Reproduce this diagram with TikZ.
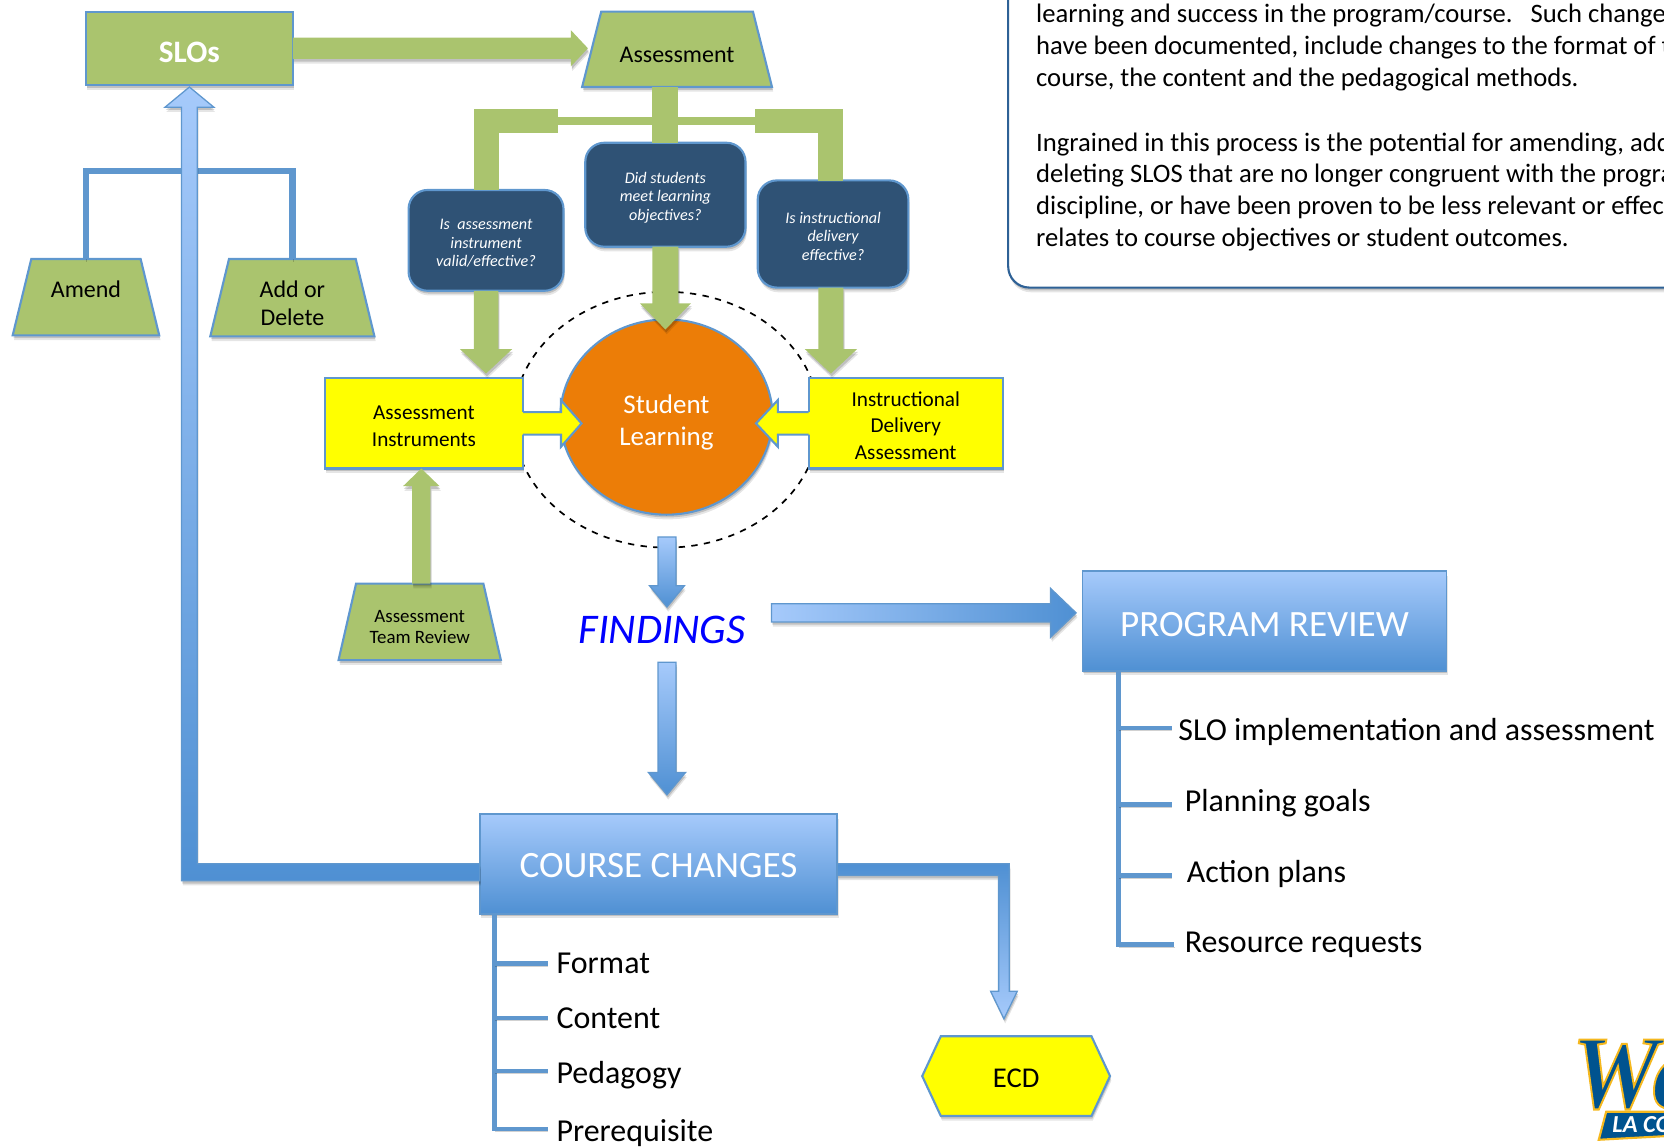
\documentclass[tikz,border=0pt]{standalone}
\usepackage{fontspec}
\setmainfont{Carlito}
\newfontfamily\logofont{Liberation Serif}
\usetikzlibrary{shapes.geometric,shapes.symbols,shadows,calc}
\definecolor{gr}{HTML}{AAC46E}
\definecolor{ln}{HTML}{5F97CE}
\definecolor{navy}{HTML}{2F5275}
\definecolor{blL}{HTML}{A6CAFB}
\definecolor{blD}{HTML}{4F90D3}
\definecolor{org}{HTML}{EC7D07}
\definecolor{notec}{HTML}{2E6196}
\definecolor{logob}{HTML}{00538F}
\definecolor{logog}{HTML}{F5B81E}
\definecolor{yel}{RGB}{255,255,0}
\definecolor{pureblue}{RGB}{0,0,255}
\newcommand{\fs}[2]{\fontsize{#1}{#2}\selectfont}
% text centred at a shift from the node centre, taking no height of its own
\newcommand{\ctext}[3]{\raisebox{\dimexpr#1-2.6pt\relax}[0pt][0pt]{\parbox{#2}{\centering #3}}}
% the same, in a box of half height #2, which gives a trapezium its full height
\newcommand{\ttext}[4]{\raisebox{\dimexpr#1-2.6pt\relax}[#2][#2]{\parbox{#3}{\centering #4}}}
\newcommand{\vArrow}[6]{\path[#1] let \p1=(#2),\p2=(#3) in
  (\x1-#4,\y1) -- (\x1-#4,\y2+#6) -- (\x1-#5,\y2+#6) -- (\x1,\y2) -- (\x1+#5,\y2+#6) -- (\x1+#4,\y2+#6) -- (\x1+#4,\y1) -- cycle;}
\newcommand{\hArrow}[6]{\path[#1] let \p1=(#2),\p2=(#3) in
  (\x1,\y1-#4) -- (\x2-#6,\y1-#4) -- (\x2-#6,\y1-#5) -- (\x2,\y1) -- (\x2-#6,\y1+#5) -- (\x2-#6,\y1+#4) -- (\x1,\y1+#4) -- cycle;}
\newcommand{\hOpen}[6]{\path[fill=yel] let \p1=(#1),\p2=(#2) in
  (\x1+#6,\y1-#3) -- (\x2-#5,\y1-#3) -- (\x2-#5,\y1-#4) -- (\x2,\y1) -- (\x2-#5,\y1+#4) -- (\x2-#5,\y1+#3) -- (\x1+#6,\y1+#3) -- cycle;
  \path[draw=ln,line width=1pt] let \p1=(#1),\p2=(#2) in
  (\x1,\y1-#3) -- (\x2-#5,\y1-#3) -- (\x2-#5,\y1-#4) -- (\x2,\y1) -- (\x2-#5,\y1+#4) -- (\x2-#5,\y1+#3) -- (\x1,\y1+#3);}
\tikzset{
  softsh/.style={drop shadow={shadow xshift=.6pt,shadow yshift=-2.2pt,fill=black,opacity=.10},
                 drop shadow={shadow xshift=.4pt,shadow yshift=-1.3pt,fill=black,opacity=.16}},
  linesh/.style={preaction={draw=black,opacity=.18,transform canvas={xshift=.4pt,yshift=-1.3pt}}},
  grbox/.style={softsh,fill=gr,draw=ln,line width=1pt,inner sep=0pt,outer sep=0pt},
  trap/.style={grbox,trapezium,trapezium angle=#1},
  qbox/.style={softsh,rectangle,rounded corners=9pt,fill=navy,draw=ln,line width=1pt,text=white,
     font=\fs{7.6}{8.7}\itshape,inner sep=0pt,outer sep=0pt},
  ybox/.style={softsh,rectangle,fill=yel,draw=ln,line width=1pt,inner sep=0pt,outer sep=0pt,font=\fs{10}{12.4}},
  bigbox/.style={softsh,rectangle,top color=blL,bottom color=blD,draw=ln,line width=.8pt,text=white,font=\fs{17.5}{20},inner sep=0pt,outer sep=0pt},
  grarrow/.style={softsh,fill=gr},
  blV/.style={softsh,top color=blL,bottom color=blD,draw=ln,line width=.6pt},
  blH/.style={softsh,left color=blL,right color=blD,draw=ln,line width=.6pt},
  grline/.style={draw=gr,miter limit=10},
  brack/.style={linesh,draw=ln,line width=2pt},
  item/.style={anchor=base west,inner sep=0pt,font=\fs{15.05}{17}},
}
\begin{document}
\begin{tikzpicture}[x=.5pt,y=-.5pt]
\useasboundingbox (0,0) rectangle (1568,1081);
\clip (0,0) rectangle (1568,1081);

% note box
\node[softsh,rectangle,rounded corners=10pt,fill=white,draw=notec,line width=1pt,minimum width=350pt,minimum height=170pt,outer sep=0pt,inner sep=0pt,anchor=south west] (note) at (950,271) {};
\node[anchor=north west,inner sep=0pt,align=left,font=\fs{12.55}{15}] (notetext) at (976,3.5)
 {learning and success in the program/course.\ \ \ Such change\\
  have been documented, include changes to the format of t\\
  course, the content and the pedagogical methods.\\[15.5pt]
  Ingrained in this process is the potential for amending, add\\
  deleting SLOS that are no longer congruent with the progra\\
  discipline, or have been proven to be less relevant or effec\\
  relates to course objectives or student outcomes.};

% dashed ring
\node[ellipse,draw=black,dashed,line width=.8pt,minimum width=144pt,minimum height=120.5pt,inner sep=0pt] (ring) at (628,395.5) {};

% top row
\node[grbox,rectangle,minimum width=97.5pt,minimum height=34.5pt,text=white,font=\fs{14.7}{16}\bfseries] (slos) at (178.5,45.5) {\ctext{-2.75pt}{60pt}{SLOs}};
\node[trap=75.8,font=\fs{11.3}{13}] (assess) at (638,46.5) {\ttext{-2.75pt}{17.75pt}{71.5pt}{Assessment}};
\node[trap=76.3,font=\fs{11.3}{13}] (amend) at (81,280) {\ttext{3.5pt}{18pt}{51.5pt}{Amend}};
\node[trap=76.4,font=\fs{11.3}{13}] (addel) at (275.5,280.5) {\ttext{-2.75pt}{18.25pt}{59.7pt}{Add or\\Delete}};
\node[trap=77.1,font=\fs{8.9}{10}] (team) at (395.5,586) {\ttext{-2pt}{18pt}{60pt}{Assessment\\Team Review}};

% questions
\node[qbox,minimum width=73pt,minimum height=47.5pt] (q1) at (458,226.5) {\ctext{-.75pt}{60pt}{Is\ \ assessment\\instrument\\valid/effective?}};
\node[qbox,minimum width=75.5pt,minimum height=49pt] (q2) at (627,183.5) {\ctext{-.75pt}{60pt}{Did students\\meet learning\\objectives?}};
\node[qbox,minimum width=71pt,minimum height=50.5pt] (q3) at (785,220.5) {\ctext{-.5pt}{60pt}{Is instructional\\delivery\\effective?}};

% assessment tree
\coordinate (elL) at (525.6,114);
\coordinate (elR) at (711.6,114);
\coordinate (q3n) at (783,171);
\coordinate (q3s) at (783,271);
\path[grline,line width=12.3pt] (assess.south -| q2.north) -- (q2.north);
\path[grline,line width=3.5pt] (elL) -- (elR);
\path[grline,line width=11.75pt] (q1.north) |- (elL);
\path[grline,line width=11.75pt] (q3n) |- (elR);

% centre
\node[softsh,ellipse,fill=org,draw=ln,line width=1pt,minimum width=100pt,minimum height=92pt,inner sep=0pt,outer sep=0pt,text=white,font=\fs{12.7}{15}] (sl) at (628,393) {\ctext{-3pt}{60pt}{Student\\Learning}};
\node[ybox,minimum width=93.5pt,minimum height=42.5pt] (instr) at (399.5,399) {\ctext{-1.25pt}{70pt}{Assessment\\Instruments}};
\node[ybox,minimum width=91.5pt,minimum height=42.5pt] (deliv) at (853.5,399) {\ctext{-.9pt}{70pt}{Instructional\\Delivery\\Assessment}};

\coordinate (tA) at (457,352);
\coordinate (tB) at (783,352);
\coordinate (tI) at (397,441.5);
\coordinate (tSLa) at (548,399);
\coordinate (tSLb) at (712.4,399);
\coordinate (tQ) at (627,310.5);
\vArrow{grarrow}{q1.south}{tA}{5.75pt}{12.3pt}{11.5pt}
\vArrow{grarrow}{q3s}{tB}{5.9pt}{12.3pt}{11.5pt}
\vArrow{grarrow}{q2.south}{tQ}{6.15pt}{12pt}{12.3pt}
\path[grarrow] let \p1=(team.north),\p2=(tI) in
  (\x2-4.3pt,\y1) -- (\x2-4.3pt,\y2-8.3pt) -- (\x2-8.6pt,\y2-8.3pt) -- (\x2,\y2) -- (\x2+8.6pt,\y2-8.3pt) -- (\x2+4.3pt,\y2-8.3pt) -- (\x2+4.3pt,\y1) -- cycle;
\hOpen{instr.east}{tSLa}{5.3pt}{11pt}{9.7pt}{-1pt}
\hOpen{deliv.west}{tSLb}{5.3pt}{11pt}{-10.3pt}{1pt}

% SLOs to assessment
\coordinate (tAs) at (554,45);
\hArrow{grarrow}{slos.east}{tAs}{5pt}{8.5pt}{8pt}

% amend bracket
\coordinate (brk) at (178,161);
\path[linesh,draw=ln,line width=3pt] (amend.north) |- (brk) -| (addel.north);

% course changes and program review
\node[bigbox,minimum width=168.5pt,minimum height=47pt] (course) at (620.5,814) {\ctext{-2.5pt}{150pt}{COURSE CHANGES}};
\node[bigbox,minimum width=171.5pt,minimum height=47pt] (prog) at (1191.5,585) {\ctext{-3.5pt}{150pt}{PROGRAM REVIEW}};

\node[font=\fs{19.9}{22}\itshape,text=pureblue,inner sep=0pt] (find) at (624,594) {FINDINGS};

% blue arrows
\path[blV] let \p1=(slos.south),\p2=(course.west) in
  (\x1,\y1-1pt) -- (\x1+11.5pt,\y1-10.5pt) -- (\x1+3.7pt,\y1-10.5pt) -- (\x1+3.7pt,\y2) -- (\x2,\y2) -- (\x2,\y2-8pt)
  -- (\x1-3.7pt,\y2-8pt) -- (\x1-3.7pt,\y1-10.5pt) -- (\x1-11.5pt,\y1-10.5pt) -- cycle;
\coordinate (fa) at (628.5,506);
\coordinate (fb) at (628.5,572);
\coordinate (fc) at (628.5,624);
\coordinate (fd) at (628.5,749);
\vArrow{blV}{fa}{fb}{4.2pt}{8.2pt}{10pt}
\vArrow{blV}{fc}{fd}{4.2pt}{8.7pt}{10.5pt}
\coordinate (pa) at (727,577.5);
\coordinate (pb) at (1014,577.5);
\hArrow{blH}{pa}{pb}{4.3pt}{11.5pt}{12pt}
\node[softsh,signal,signal to=east and west,signal pointer angle=130,fill=yel,draw=ln,line width=1pt,minimum width=88.5pt,minimum height=37.5pt,inner sep=0pt,outer sep=0pt,font=\fs{13.5}{15}] (ecd) at (957.5,1014) {\ctext{-2pt}{30pt}{ECD}};
\coordinate (te) at (946,960);
\path[softsh,top color=blD,bottom color=blL,draw=ln,line width=.6pt] let \p1=(course.east),\p2=(te) in
  (\x1,\y1) -- (\x2+2.5pt,\y1) -- (\x2+2.5pt,\y2+13pt) -- (\x2+6.3pt,\y2+13pt) -- (\x2,\y2) -- (\x2-6.3pt,\y2+13pt)
  -- (\x2-2.5pt,\y2+13pt) -- (\x2-2.5pt,\y1-5.5pt) -- (\x1,\y1-5.5pt) -- cycle;

% course list
\coordinate (c1) at (516,908);\coordinate (c2) at (516,959);\coordinate (c3) at (516,1009);\coordinate (c4) at (516,1064);
\coordinate (ct) at (466,861);
\path[brack] (ct) |- (c4);
\path[brack] (ct |- c1) -- (c1);
\path[brack] (ct |- c2) -- (c2);
\path[brack] (ct |- c3) -- (c3);
\node[item] (l1) at (524,917) {Format};
\node[item] (l2) at (524,969) {Content};
\node[item] (l3) at (524,1021) {Pedagogy};
\node[item] (l4) at (524,1076) {Prerequisite};

% program list
\coordinate (p1) at (1104,686);\coordinate (p2) at (1104,758);\coordinate (p3) at (1104,825);\coordinate (p4) at (1106,890);
\coordinate (pt) at (1054,632);
\path[brack] (pt) |- (p4);
\path[brack] (pt |- p1) -- (p1);
\path[brack] (pt |- p2) -- (p2);
\path[brack] (pt |- p3) -- (p3);
\node[item] (r1) at (1110,698) {SLO implementation and assessment};
\node[item] (r2) at (1116,765) {Planning goals};
\node[item] (r3) at (1118,832) {Action plans};
\node[item] (r4) at (1116,898) {Resource requests};

% logo
\node[anchor=base west,inner sep=0pt,text=logob,yscale=1.07,transform shape,font=\logofont\bfseries\itshape\fontsize{46}{48}\selectfont] (logo) at (1481,1044)
  {\special{pdf:code q 2 Tr 0.9 w 0.96 0.72 0.12 RG}We\special{pdf:code Q}};
\path[fill=logob,draw=logog,line width=1pt] (1513.5,1047.6) -- (1580,1047.6) -- (1580,1070) -- (1506.5,1074) -- cycle;
\node[anchor=base west,inner sep=0pt,text=white,font=\fs{11.5}{13}\bfseries\itshape] (logotext) at (1519,1067) {LA CO};
\end{tikzpicture}
\end{document}
